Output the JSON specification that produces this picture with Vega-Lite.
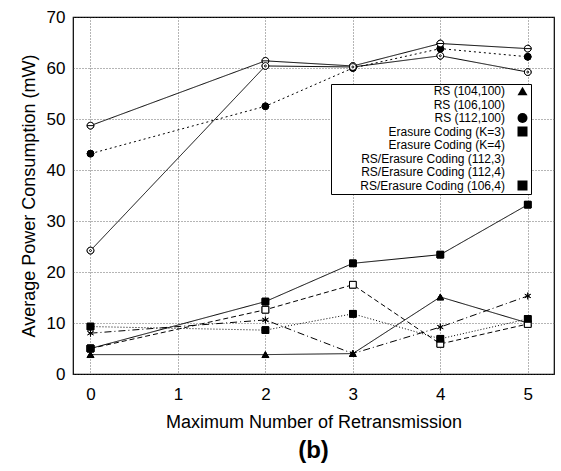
{
  "$schema": "https://vega.github.io/schema/vega-lite/v6.json",
  "width": 481,
  "height": 357,
  "autosize": "none",
  "padding": {"left": 73, "top": 17, "right": 7, "bottom": 97},
  "background": "white",
  "title": {"text": "(b)", "orient": "bottom", "anchor": "middle", "fontSize": 24, "fontWeight": "bold", "font": "Liberation Sans", "color": "black", "offset": 8},
  "data": {"values": [
    {"x": 0, "y": 3.8, "s": "RS (104,100)"}, {"x": 2, "y": 3.8, "s": "RS (104,100)"}, {"x": 3, "y": 4.0, "s": "RS (104,100)"}, {"x": 4, "y": 15.1, "s": "RS (104,100)"}, {"x": 5, "y": 10.0, "s": "RS (104,100)"},
    {"x": 0, "y": 5.0, "s": "RS (106,100)"}, {"x": 2, "y": 12.6, "s": "RS (106,100)"}, {"x": 3, "y": 17.5, "s": "RS (106,100)"}, {"x": 4, "y": 5.9, "s": "RS (106,100)"}, {"x": 5, "y": 9.8, "s": "RS (106,100)"},
    {"x": 0, "y": 43.2, "s": "RS (112,100)"}, {"x": 2, "y": 52.5, "s": "RS (112,100)"}, {"x": 3, "y": 60.0, "s": "RS (112,100)"}, {"x": 4, "y": 63.8, "s": "RS (112,100)"}, {"x": 5, "y": 62.2, "s": "RS (112,100)"},
    {"x": 0, "y": 9.3, "s": "Erasure Coding (K=3)"}, {"x": 2, "y": 8.6, "s": "Erasure Coding (K=3)"}, {"x": 3, "y": 11.8, "s": "Erasure Coding (K=3)"}, {"x": 4, "y": 6.9, "s": "Erasure Coding (K=3)"}, {"x": 5, "y": 10.8, "s": "Erasure Coding (K=3)"},
    {"x": 0, "y": 8.0, "s": "Erasure Coding (K=4)"}, {"x": 2, "y": 10.6, "s": "Erasure Coding (K=4)"}, {"x": 3, "y": 4.0, "s": "Erasure Coding (K=4)"}, {"x": 4, "y": 9.2, "s": "Erasure Coding (K=4)"}, {"x": 5, "y": 15.3, "s": "Erasure Coding (K=4)"},
    {"x": 0, "y": 48.7, "s": "RS/Erasure Coding (112,3)"}, {"x": 2, "y": 61.4, "s": "RS/Erasure Coding (112,3)"}, {"x": 3, "y": 60.4, "s": "RS/Erasure Coding (112,3)"}, {"x": 4, "y": 64.8, "s": "RS/Erasure Coding (112,3)"}, {"x": 5, "y": 63.8, "s": "RS/Erasure Coding (112,3)"},
    {"x": 0, "y": 24.2, "s": "RS/Erasure Coding (112,4)"}, {"x": 2, "y": 60.4, "s": "RS/Erasure Coding (112,4)"}, {"x": 3, "y": 60.2, "s": "RS/Erasure Coding (112,4)"}, {"x": 4, "y": 62.4, "s": "RS/Erasure Coding (112,4)"}, {"x": 5, "y": 59.2, "s": "RS/Erasure Coding (112,4)"},
    {"x": 0, "y": 5.0, "s": "RS/Erasure Coding (106,4)"}, {"x": 2, "y": 14.2, "s": "RS/Erasure Coding (106,4)"}, {"x": 3, "y": 21.7, "s": "RS/Erasure Coding (106,4)"}, {"x": 4, "y": 23.4, "s": "RS/Erasure Coding (106,4)"}, {"x": 5, "y": 33.2, "s": "RS/Erasure Coding (106,4)"}
  ]},
  "encoding": {
    "x": {"field": "x", "type": "quantitative", "scale": {"domain": [-0.2, 5.3], "nice": false, "zero": false},
      "axis": {"values": [0, 1, 2, 3, 4, 5], "title": "Maximum Number of Retransmission", "labelPadding": 12, "titlePadding": 11}},
    "y": {"field": "y", "type": "quantitative", "scale": {"domain": [0, 70], "nice": false},
      "axis": {"values": [0, 10, 20, 30, 40, 50, 60, 70], "title": "Average Power Consumption (mW)", "labelPadding": 8, "titlePadding": 8}}
  },
  "layer": [
    {
      "mark": {"type": "point", "filled": true, "stroke": "black", "strokeWidth": 1, "size": 45, "opacity": 1},
      "encoding": {
        "shape": {"field": "s", "type": "nominal",
          "scale": {"domain": ["RS (104,100)", "RS (106,100)", "RS (112,100)", "Erasure Coding (K=3)", "Erasure Coding (K=4)", "RS/Erasure Coding (112,3)", "RS/Erasure Coding (112,4)", "RS/Erasure Coding (106,4)"],
            "range": ["triangle-up", "square", "circle", "square", "M0,-1V1M-0.87,-0.5L0.87,0.5M-0.87,0.5L0.87,-0.5", "M-1,0A1,1 0 1,0 1,0A1,1 0 1,0 -1,0ZM-1,0H1", "M-1,0A1,1 0 1,0 1,0A1,1 0 1,0 -1,0ZM-0.3,0A0.3,0.3 0 1,0 0.3,0A0.3,0.3 0 1,0 -0.3,0Z", "square"]},
          "legend": {"title": null,
            "encode": {"symbols": {"shape": {"value": {"signal": "'M4.4,0M-3.2,0H3.2' + ['M0,-0.55L0.6,0.45H-0.6Z', 'M-0.6,-0.6H0.6V0.6H-0.6Z', 'M-0.6,0A0.6,0.6 0 1,0 0.6,0A0.6,0.6 0 1,0 -0.6,0Z', 'M-0.65,-0.65H0.65V0.65H-0.65Z', 'M0,-0.7V0.7M-0.6,-0.35L0.6,0.35M-0.6,0.35L0.6,-0.35', 'M-0.6,0A0.6,0.6 0 1,0 0.6,0A0.6,0.6 0 1,0 -0.6,0ZM-0.6,0H0.6', 'M-0.6,0A0.6,0.6 0 1,0 0.6,0A0.6,0.6 0 1,0 -0.6,0ZM-0.2,0A0.2,0.2 0 1,0 0.2,0A0.2,0.2 0 1,0 -0.2,0Z', 'M-0.65,-0.65H0.65V0.65H-0.65Z'][datum.index]"}}}}}},
        "fill": {"field": "s", "type": "nominal",
          "scale": {"domain": ["RS (104,100)", "RS (106,100)", "RS (112,100)", "Erasure Coding (K=3)", "Erasure Coding (K=4)", "RS/Erasure Coding (112,3)", "RS/Erasure Coding (112,4)", "RS/Erasure Coding (106,4)"],
            "range": ["black", "white", "black", "black", "white", "white", "white", "black"]},
          "legend": {"title": null}}
      }
    },
    {
      "mark": {"type": "line", "color": "black", "strokeWidth": 1},
      "encoding": {
        "strokeDash": {"field": "s", "type": "nominal",
          "scale": {"domain": ["RS (104,100)", "RS (106,100)", "RS (112,100)", "Erasure Coding (K=3)", "Erasure Coding (K=4)", "RS/Erasure Coding (112,3)", "RS/Erasure Coding (112,4)", "RS/Erasure Coding (106,4)"],
            "range": [[1, 0], [5, 3], [2, 3], [1, 2], [7, 3, 1, 3], [1, 0], [1, 0], [1, 0]]},
          "legend": {"title": null}}
      }
    },
    {
      "mark": {"type": "point", "filled": true, "stroke": "black", "strokeWidth": 1, "size": 45, "opacity": 1},
      "encoding": {
        "shape": {"field": "s", "type": "nominal", "legend": {"title": null}},
        "fill": {"field": "s", "type": "nominal", "legend": {"title": null}}
      }
    }
  ],
  "config": {
    "view": {"stroke": "black", "strokeWidth": 1.2},
    "font": "Liberation Sans",
    "axis": {
      "domain": false, "ticks": false, "grid": true, "gridColor": "#444", "gridDash": [1, 2], "gridWidth": 0.8, "gridOpacity": 1,
      "labelFont": "Liberation Sans", "labelFontSize": 17, "labelColor": "black",
      "titleFont": "Liberation Sans", "titleFontSize": 18, "titleFontWeight": "normal", "titleColor": "black"
    },
    "legend": {
      "orient": "none", "legendX": 258, "legendY": 67, "padding": 1, "rowPadding": -0.5,
      "strokeColor": "black", "fillColor": "white", "labelFont": "Liberation Sans", "labelFontSize": 12, "labelColor": "black",
      "labelAlign": "right", "labelOffset": -23.5, "symbolOffset": 184.5, "labelLimit": 400, "symbolSize": 100,
      "symbolStrokeColor": "black", "symbolStrokeWidth": 1,
      "symbolType": "circle",
      "columns": 1
    }
  }
}
